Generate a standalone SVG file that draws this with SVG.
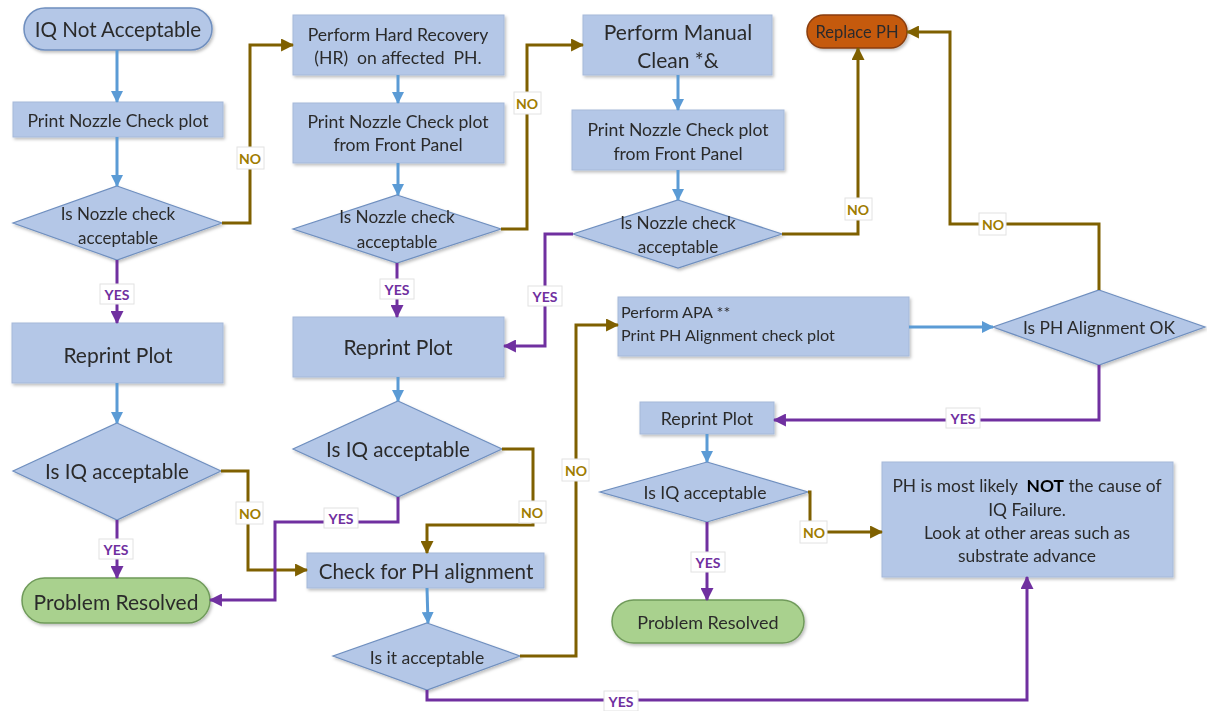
<svg xmlns="http://www.w3.org/2000/svg" width="1207" height="711" viewBox="0 0 1207 711">
<style>
.box{fill:#b4c7e7;stroke:#a6b9d9;stroke-width:1}
.dia{fill:#b4c7e7;stroke:#6f8fbf;stroke-width:1.2}
.pill{fill:#b4c7e7;stroke:#6f8fbf;stroke-width:1.5}
.green{fill:#a9d18e;stroke:#6f9a5a;stroke-width:1.5}
.orange{fill:#c55a11;stroke:#8a3d0a;stroke-width:1.5}
text{font-family:Lato,"Open Sans","Liberation Sans",sans-serif;fill:#2b2b2b;text-anchor:middle;dominant-baseline:central}
.b{stroke:#5b9bd5;stroke-width:3;fill:none}
.n{stroke:#7f6000;stroke-width:3;fill:none}
.y{stroke:#7030a0;stroke-width:3;fill:none}
.lbl rect{fill:#fff;stroke:#e2e2e2;stroke-width:1}
.lbl text{font-weight:bold;font-size:14px}
.ln text{fill:#a07c00}
.ly text{fill:#7030a0}
</style>
<defs>
<filter id="sh" x="-10%" y="-10%" width="130%" height="140%">
<feDropShadow dx="1.5" dy="2" stdDeviation="1.5" flood-color="#000" flood-opacity="0.25"/>
</filter>
<marker id="ab" viewBox="0 0 12 12" refX="11" refY="6" markerWidth="12" markerHeight="12" markerUnits="userSpaceOnUse" orient="auto"><path d="M0,0 L12,6 L0,12 z" fill="#5b9bd5"/></marker>
<marker id="an" viewBox="0 0 12 12" refX="11" refY="6" markerWidth="13" markerHeight="13" markerUnits="userSpaceOnUse" orient="auto"><path d="M0,0 L12,6 L0,12 z" fill="#7f6000"/></marker>
<marker id="ay" viewBox="0 0 12 12" refX="11" refY="6" markerWidth="13" markerHeight="13" markerUnits="userSpaceOnUse" orient="auto"><path d="M0,0 L12,6 L0,12 z" fill="#7030a0"/></marker>
</defs>
<rect width="1207" height="711" fill="#fff"/>

<g id="nodes" filter="url(#sh)">
<g id="n_start"><rect class="pill" x="24" y="8" width="188" height="42" rx="21"/><text x="118" y="29" font-size="20.6">IQ Not Acceptable</text></g>
<g id="n_print1"><rect class="box" x="13" y="102" width="210" height="35"/><text x="118" y="120" font-size="17.6">Print Nozzle Check plot</text></g>
<g id="n_dia1"><polygon class="dia" points="117,186 222,223 117,260 13,223"/><text x="118" y="213" font-size="17">Is Nozzle check</text><text x="118" y="237" font-size="17">acceptable</text></g>
<g id="n_reprint1"><rect class="box" x="12" y="323" width="211" height="60"/><text x="118" y="354" font-size="21">Reprint Plot</text></g>
<g id="n_iq1"><polygon class="dia" points="117,423 221,471 117,520 13,471"/><text x="117" y="471" font-size="20.6">Is IQ acceptable</text></g>
<g id="n_res1"><rect class="green" x="22" y="578" width="188" height="45" rx="22.5"/><text x="116" y="601" font-size="21">Problem Resolved</text></g>

<g id="n_hr"><rect class="box" x="293" y="15" width="211" height="60"/><text x="398" y="34" font-size="17.6">Perform Hard Recovery</text><text x="398" y="57" font-size="17.6" xml:space="preserve">(HR)  on affected  PH.</text></g>
<g id="n_print2"><rect class="box" x="293" y="103" width="211" height="60"/><text x="398" y="121" font-size="17.6">Print Nozzle Check plot</text><text x="398" y="144" font-size="17.6">from Front Panel</text></g>
<g id="n_dia2"><polygon class="dia" points="397,195 501,229 397,263 293,229"/><text x="397" y="216" font-size="17.2">Is Nozzle check</text><text x="397" y="241" font-size="17.2">acceptable</text></g>
<g id="n_reprint2"><rect class="box" x="293" y="317" width="211" height="60"/><text x="398" y="346" font-size="21">Reprint Plot</text></g>
<g id="n_iq2"><polygon class="dia" points="398,401 502,449 398,497 293,449"/><text x="398" y="449" font-size="20.6">Is IQ acceptable</text></g>
<g id="n_check"><rect class="box" x="307" y="553" width="237" height="35"/><text x="426" y="571" font-size="20.6">Check for PH alignment</text></g>
<g id="n_isit"><polygon class="dia" points="427,623 520,656 427,690 333,656"/><text x="427" y="657" font-size="17.6">Is it acceptable</text></g>

<g id="n_manual"><rect class="box" x="583" y="15" width="189" height="60"/><text x="678" y="31" font-size="21">Perform Manual</text><text x="678" y="59" font-size="21">Clean *&amp;</text></g>
<g id="n_print3"><rect class="box" x="572" y="110" width="212" height="60"/><text x="678" y="129" font-size="17.6">Print Nozzle Check plot</text><text x="678" y="153" font-size="17.6">from Front Panel</text></g>
<g id="n_dia3"><polygon class="dia" points="678,200 782,234 678,268 573,234"/><text x="678" y="222" font-size="17.2">Is Nozzle check</text><text x="678" y="246" font-size="17.2">acceptable</text></g>
<g id="n_replace"><rect class="orange" x="807" y="15" width="100" height="33" rx="16.5"/><text x="857" y="32" font-size="16.5" fill="#2b1a0a">Replace PH</text></g>
<g id="n_apa"><rect class="box" x="618" y="297" width="291" height="59"/><text x="621" y="311" font-size="16.2" style="text-anchor:start">Perform APA **</text><text x="621" y="334" font-size="16.2" style="text-anchor:start">Print PH Alignment check plot</text></g>
<g id="n_phok"><polygon class="dia" points="1099,290 1205,327 1099,365 993,327"/><text x="1099" y="327" font-size="17.4">Is PH Alignment OK</text></g>
<g id="n_reprint3"><rect class="box" x="640" y="402" width="134" height="32"/><text x="707" y="418" font-size="17.8">Reprint Plot</text></g>
<g id="n_iq3"><polygon class="dia" points="707,462 808,492 707,522 600,492"/><text x="705" y="492" font-size="17.6">Is IQ acceptable</text></g>
<g id="n_res3"><rect class="green" x="612" y="600" width="192" height="43" rx="21.5"/><text x="708" y="622" font-size="18">Problem Resolved</text></g>
<g id="n_notph"><rect class="box" x="882" y="462" width="291" height="115"/><text x="1027" y="485" font-size="17.4" xml:space="preserve">PH is most likely  <tspan font-weight="bold" fill="#000">NOT</tspan> the cause of</text><text x="1027" y="509" font-size="17.4">IQ Failure.</text><text x="1027" y="532" font-size="17.4">Look at other areas such as</text><text x="1027" y="555" font-size="17.4">substrate advance</text></g>
</g>

<g id="connectors">
<path class="b" d="M117,50 V102" marker-end="url(#ab)"/>
<path class="b" d="M117,137 V186" marker-end="url(#ab)"/>
<path class="n" d="M222,223 H250 V45 H293" marker-end="url(#an)"/>
<path class="y" d="M117,260 V323" marker-end="url(#ay)"/>
<path class="b" d="M117,383 V423" marker-end="url(#ab)"/>
<path class="n" d="M221,471 H248 V570 H307" marker-end="url(#an)"/>
<path class="y" d="M117,520 V578" marker-end="url(#ay)"/>
<path class="b" d="M398,75 V103" marker-end="url(#ab)"/>
<path class="b" d="M398,163 V195" marker-end="url(#ab)"/>
<path class="n" d="M501,229 H527 V45 H583" marker-end="url(#an)"/>
<path class="y" d="M397,263 V317" marker-end="url(#ay)"/>
<path class="b" d="M398,377 V401" marker-end="url(#ab)"/>
<path class="y" d="M398,497 V522 H275 V600 H210" marker-end="url(#ay)"/>
<path class="n" d="M502,449 H533 V525 H427 V553" marker-end="url(#an)"/>
<path class="b" d="M427,588 L428,623" marker-end="url(#ab)"/>
<path class="n" d="M520,656 H576 V325 H618" marker-end="url(#an)"/>
<path class="y" d="M427,690 V700 H1027 V577" marker-end="url(#ay)"/>
<path class="b" d="M678,75 V110" marker-end="url(#ab)"/>
<path class="b" d="M678,170 V200" marker-end="url(#ab)"/>
<path class="n" d="M782,234 H858 V48" marker-end="url(#an)"/>
<path class="y" d="M573,234 H545 V346 H504" marker-end="url(#ay)"/>
<path class="b" d="M909,327 H993" marker-end="url(#ab)"/>
<path class="n" d="M1099,290 V224 H950 V32 H907" marker-end="url(#an)"/>
<path class="y" d="M1099,365 V420 H774" marker-end="url(#ay)"/>
<path class="b" d="M707,434 V462" marker-end="url(#ab)"/>
<path class="n" d="M808,492 H810 V532 H882" marker-end="url(#an)"/>
<path class="y" d="M707,522 V600" marker-end="url(#ay)"/>

<g class="lbl ln"><rect x="237" y="147" width="27" height="22"/><text x="250" y="158">NO</text></g>
<g class="lbl ly"><rect x="100" y="284" width="34" height="20"/><text x="117" y="294">YES</text></g>
<g class="lbl ln"><rect x="236" y="502" width="27" height="22"/><text x="250" y="513">NO</text></g>
<g class="lbl ly"><rect x="99" y="539" width="34" height="20"/><text x="116" y="549">YES</text></g>
<g class="lbl ln"><rect x="514" y="92" width="27" height="22"/><text x="527" y="103">NO</text></g>
<g class="lbl ly"><rect x="380" y="279" width="34" height="20"/><text x="397" y="289">YES</text></g>
<g class="lbl ly"><rect x="324" y="508" width="34" height="20"/><text x="341" y="518">YES</text></g>
<g class="lbl ln"><rect x="519" y="501" width="27" height="22"/><text x="532" y="512">NO</text></g>
<g class="lbl ln"><rect x="562" y="459" width="27" height="22"/><text x="576" y="470">NO</text></g>
<g class="lbl ly"><rect x="604" y="691" width="34" height="20"/><text x="621" y="701">YES</text></g>
<g class="lbl ln"><rect x="845" y="198" width="27" height="22"/><text x="858" y="209">NO</text></g>
<g class="lbl ly"><rect x="528" y="286" width="34" height="20"/><text x="545" y="296">YES</text></g>
<g class="lbl ln"><rect x="979" y="213" width="27" height="22"/><text x="993" y="224">NO</text></g>
<g class="lbl ly"><rect x="946" y="408" width="34" height="20"/><text x="963" y="418">YES</text></g>
<g class="lbl ln"><rect x="800" y="521" width="27" height="22"/><text x="814" y="532">NO</text></g>
<g class="lbl ly"><rect x="691" y="552" width="34" height="20"/><text x="708" y="562">YES</text></g>
</g>
</svg>
